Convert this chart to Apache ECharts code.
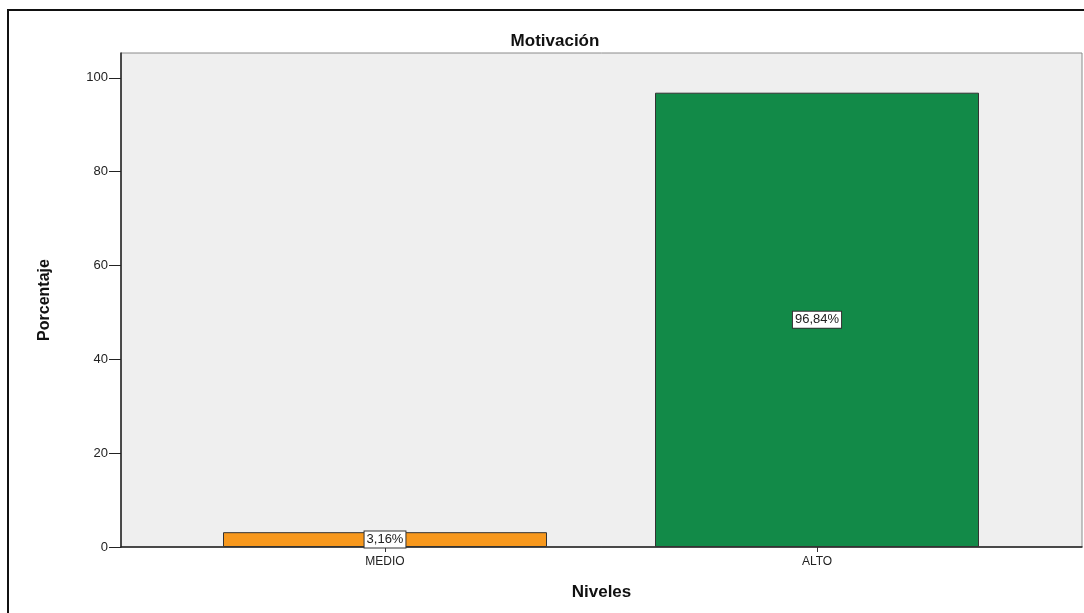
<!DOCTYPE html>
<html>
<head>
<meta charset="utf-8">
<script src="https://cdn.jsdelivr.net/npm/echarts@6/dist/echarts.min.js"></script>
<style>
  html, body { margin: 0; padding: 0; background: #fff; }
  #chart { width: 1084px; height: 613px; }
</style>
</head>
<body>
<div id="chart"></div>
<script>
// datos del gráfico
const niveles = ['MEDIO', 'ALTO']
const porcentajes = [3.16, 96.84]
const barColors = ['#f7981d', '#128a48']
const yTicks = [0, 20, 40, 60, 80, 100]

const chart = echarts.init(document.getElementById('chart'))
const FONT = '"Liberation Sans", Arial, sans-serif'

chart.setOption({
  animation: false,
  backgroundColor: '#fff',
  title: {
    text: 'Motivación',
    left: 550,
    top: 28,
    textAlign: 'center',
    textStyle: { fontFamily: FONT, fontSize: 17, fontWeight: 'bold', color: '#111' }
  },
  graphic: [{
    type: 'rect',
    shape: { x: 8, y: 10, width: 1100, height: 640 },
    style: { fill: 'none', stroke: '#111', lineWidth: 2 },
    silent: true
  }],
  grid: [
    // marco del área de trazado
    { left: 121, right: 2, top: 53, bottom: 66, show: true, backgroundColor: '#efefef', borderColor: '#8a8a8a', borderWidth: 1 },
    // área de las barras
    { left: 169, right: 51, top: 53, bottom: 66 }
  ],
  xAxis: [
    {
      gridIndex: 0,
      type: 'value',
      min: 0,
      max: 1,
      axisLine: { show: true, lineStyle: { color: '#222', width: 1.5 } },
      axisTick: { show: false },
      axisLabel: { show: false },
      splitLine: { show: false },
      name: 'Niveles',
      nameLocation: 'middle',
      nameGap: 37,
      nameTextStyle: { fontFamily: FONT, fontSize: 17, fontWeight: 'bold', color: '#111' }
    },
    {
      gridIndex: 1,
      type: 'category',
      data: niveles,
      axisLine: { show: false },
      axisTick: { show: true, alignWithLabel: true, length: 5, lineStyle: { color: '#333' } },
      axisLabel: { margin: 9, fontFamily: FONT, fontSize: 12, color: '#222' },
      splitLine: { show: false }
    }
  ],
  yAxis: [
    {
      gridIndex: 0,
      type: 'value',
      min: 0,
      max: 105.3,
      axisLine: { show: true, lineStyle: { color: '#222', width: 1.5 } },
      axisTick: { show: true, length: 12, customValues: yTicks, lineStyle: { color: '#222' } },
      axisLabel: { margin: 13, customValues: yTicks, fontFamily: FONT, fontSize: 13, color: '#222' },
      splitLine: { show: false },
      name: 'Porcentaje',
      nameLocation: 'middle',
      nameGap: 68,
      nameTextStyle: { fontFamily: '"Liberation Sans Narrow", "Liberation Sans", Arial, sans-serif', fontSize: 16, fontWeight: 'bold', color: '#111' }
    },
    {
      gridIndex: 1,
      type: 'value',
      min: 0,
      max: 105.3,
      show: false
    }
  ],
  series: [{
    type: 'bar',
    xAxisIndex: 1,
    yAxisIndex: 1,
    barWidth: '75%',
    data: porcentajes.map((v, i) => ({
      value: v,
      itemStyle: { color: barColors[i] }
    })),
    itemStyle: { borderColor: '#333', borderWidth: 1 },
    label: {
      show: true,
      position: 'inside',
      formatter: p => p.value.toFixed(2).replace('.', ',') + '%',
      fontFamily: FONT,
      fontSize: 13,
      color: '#222',
      backgroundColor: '#fff',
      borderColor: '#333',
      borderWidth: 1,
      padding: [2, 2, 1, 2]
    }
  }]
})
</script>
</body>
</html>
